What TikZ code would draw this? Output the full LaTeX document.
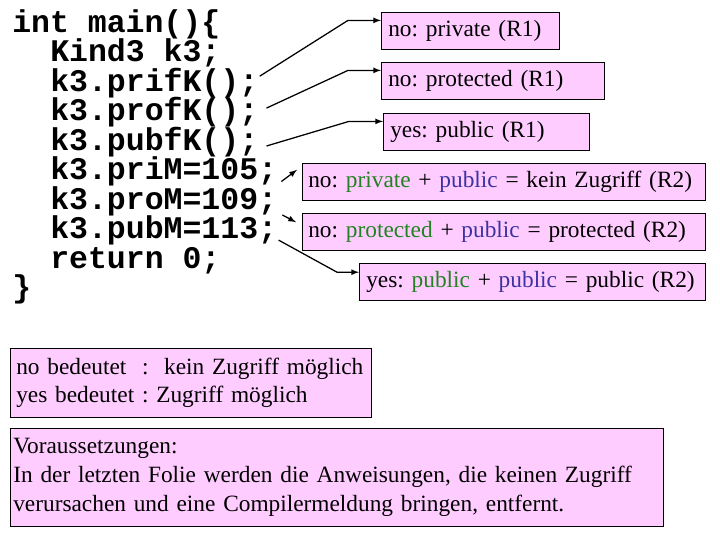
\documentclass[tikz,border=0pt]{standalone}
\usepackage{fontspec}
\setmainfont{Liberation Serif}
\newfontfamily\codefont{Liberation Mono}
\usepackage{tikz}
\usetikzlibrary{positioning}
\definecolor{boxpink}{RGB}{255,204,255}
\definecolor{accgreen}{RGB}{34,130,34}
\definecolor{accblue}{RGB}{60,50,160}
\newcommand{\pv}[1]{\textcolor{accgreen}{#1}}
\newcommand{\pb}[1]{\textcolor{accblue}{#1}}
\tikzset{
	codeline/.style={anchor=base west, inner sep=0pt, font=\codefont\bfseries\fontsize{22.4pt}{29.5pt}\selectfont},
	infobox/.style={draw, fill=boxpink, anchor=north west, align=left, inner ysep=0pt, inner xsep=0.175cm, minimum height=0.925cm, font=\frenchspacing\fontsize{16.6pt}{20.6pt}\selectfont},
	notebox/.style={draw, fill=boxpink, anchor=north west, align=left, inner ysep=0pt, font=\frenchspacing\fontsize{16.6pt}{20.6pt}\selectfont},
	pointer/.style={->, line width=0.9pt}
}
\begin{document}
\begin{tikzpicture}[>=latex, x=0.025cm, y=-0.025cm]
		\useasboundingbox (0,0) rectangle (720,540);
		\node[codeline] (lmain) at (12,32) {int main()\{};
		\node[codeline] (lkind) at (50,61.5) {Kind3 k3;};
		\node[codeline] (lprif) at (50,91) {k3.prifK();};
		\node[codeline] (lprof) at (50,120.5) {k3.profK();};
		\node[codeline] (lpubf) at (50,150) {k3.pubfK();};
		\node[codeline] (lprim) at (50,179.5) {k3.priM=105;};
		\node[codeline] (lprom) at (50,209) {k3.proM=109;};
		\node[codeline] (lpubm) at (50,238.5) {k3.pubM=113;};
		\node[codeline] (lret) at (50,268) {return 0;};
		\node[codeline] (lend) at (12,297.5) {\}};
		
		\node[infobox, text width=4.1cm] (rpriv) at (381,12) {no: private (R1)};
		\node[infobox, text width=5.225cm] (rprot) at (381,62) {no: protected (R1)};
		\node[infobox, text width=4.8cm] (rpubl) at (383,113) {yes: public (R1)};
		\node[infobox, inner xsep=0.15cm, text width=9.775cm] (rprim) at (302,163) {no: \pv{private} + \pb{public} = kein Zugriff (R2)};
		\node[infobox, inner xsep=0.15cm, text width=9.775cm] (rprom) at (302,213) {no: \pv{protected} + \pb{public} = protected (R2)};
		\node[infobox, text width=8.3cm] (rpubm) at (359,263) {yes: \pv{public} + \pb{public} = public (R2)};
		
		\node[notebox, inner xsep=0.15cm, text width=8.725cm, minimum height=1.725cm] (nlegend) at (10,348) {no bedeutet\ \ :\ \ kein Zugriff möglich\\yes bedeutet : Zugriff möglich};
		\node[notebox, inner xsep=0.075cm, text width=16.175cm, minimum height=2.45cm] (nvorauss) at (10,428) {Voraussetzungen:\\In der letzten Folie werden die Anweisungen, die keinen Zugriff\\verursachen und eine Compilermeldung bringen, entfernt.};
		
		\draw[pointer] ([xshift=0.03cm,yshift=0.37cm]lprif.base east) -- ([xshift=-0.825cm,yshift=0.26cm]rpriv.west) -- ([yshift=0.26cm]rpriv.west);
		\draw[pointer] ([xshift=0.2cm,yshift=0.31cm]lprof.base east) -- ([xshift=-0.825cm,yshift=0.26cm]rprot.west) -- ([yshift=0.26cm]rprot.west);
		\draw[pointer] ([xshift=0.2cm,yshift=0.1cm]lpubf.base east) -- ([xshift=-0.85cm,yshift=0.26cm]rpubl.west) -- ([yshift=0.26cm]rpubl.west);
		\draw[pointer] ([xshift=0.1cm,yshift=-0.05cm]lprim.base east) -- ([xshift=-0.125cm,yshift=0.3cm]rprim.west);
		\draw[pointer] ([xshift=0.125cm,yshift=-0.15cm]lprom.base east) -- ([xshift=-0.15cm,yshift=0.24cm]rprom.west);
		\draw[pointer] ([xshift=0.03cm,yshift=-0.04cm]lpubm.base east) -- ([xshift=-0.55cm,yshift=0.24cm]rpubm.west) -- ([yshift=0.24cm]rpubm.west);
\end{tikzpicture}
\end{document}
